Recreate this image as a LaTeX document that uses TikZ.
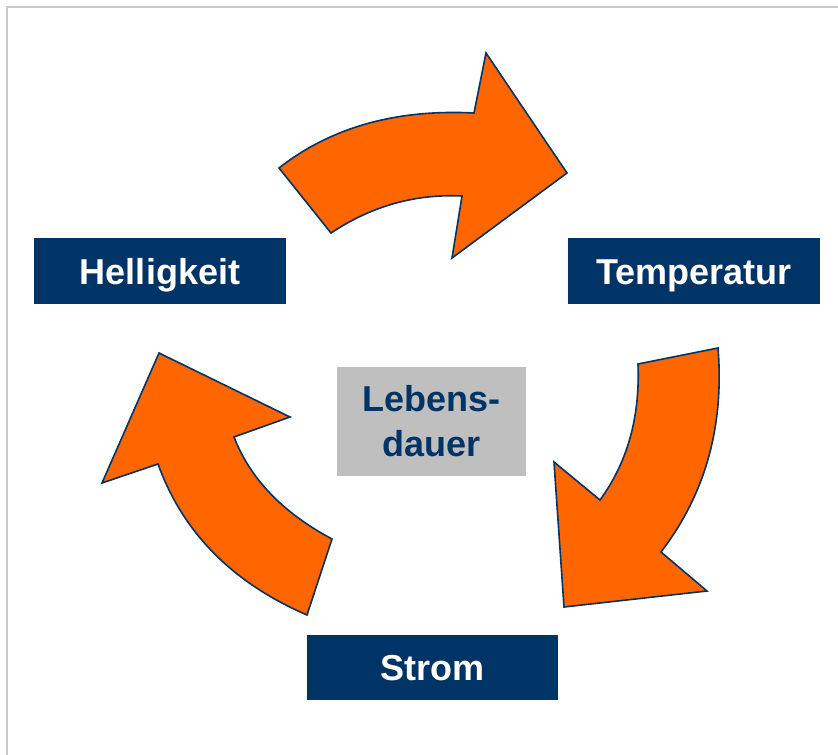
\documentclass[tikz,border=0pt]{standalone}
\usepackage{fontspec}
\setmainfont{Liberation Sans}
\definecolor{navy}{RGB}{0,51,102}
\definecolor{arroworange}{RGB}{255,102,0}
\definecolor{boxgray}{RGB}{191,191,191}
\definecolor{framegray}{RGB}{200,200,200}
\begin{document}
\begin{tikzpicture}[x=1pt,y=-1pt,
  curvearrow/.style={fill=arroworange, draw=navy, line width=1.6pt, line join=miter},
  lbl/.style={fill=navy, text=white, font=\fontsize{36}{42}\selectfont\bfseries, inner sep=0pt, text height=26pt, text depth=0pt},
  centerbox/.style={fill=boxgray, text=navy, font=\fontsize{36}{45}\selectfont\bfseries, inner sep=0pt, align=center}]
\useasboundingbox (0,0) rectangle (838,755);
\draw[framegray, line width=1.5pt] (7,755) -- (7,7) -- (838,7);

% top arrow
\path[curvearrow] (279,168) .. controls (331,127.3) and (396,109) .. (474,113)
  -- (486,53) -- (567,173) -- (452,258) -- (462,196)
  .. controls (415.3,193.7) and (371.7,206) .. (331,233) -- cycle;
% right arrow
\path[curvearrow] (638,364) -- (718,348)
  .. controls (724.3,426.2) and (705.3,494.2) .. (661,552)
  -- (707,591) -- (564,607) -- (554,462) -- (600,500)
  .. controls (627.5,462.3) and (640.1,416.9) .. (638,364) -- cycle;
% left arrow
\path[curvearrow] (307,615) -- (332,539)
  .. controls (282.9,512.8) and (250.2,478.8) .. (234,437)
  -- (290,417) -- (159,353) -- (102,483) -- (158,464)
  .. controls (182.7,532.4) and (232.3,582.7) .. (307,615) -- cycle;

\node[lbl, minimum width=252pt, minimum height=66pt] (hell) at (160,271) {Helligkeit};
\node[lbl, minimum width=252pt, minimum height=66pt] (temp) at (694,271) {Temperatur};
\node[lbl, minimum width=251pt, minimum height=65pt] (strom) at (432.5,667.5) {Strom};
\node[centerbox, minimum width=189pt, minimum height=109pt] (leben) at (431.5,421.5) {Lebens-\\dauer};
\end{tikzpicture}
\end{document}
